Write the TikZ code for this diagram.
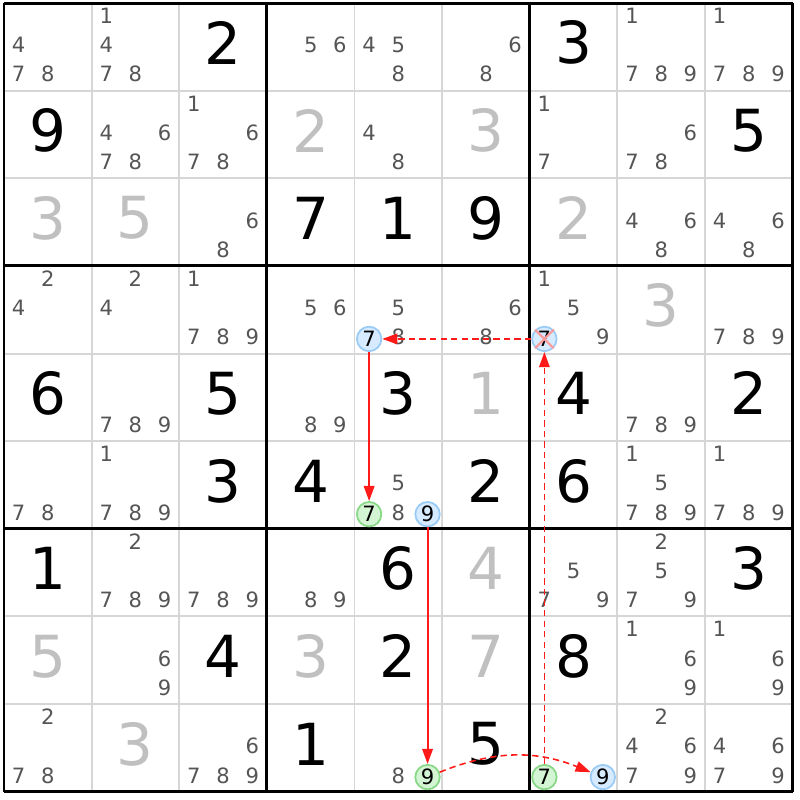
\documentclass[tikz,border=0pt]{standalone}
\usepackage{fontspec}
\setmainfont{DejaVu Sans}
\usetikzlibrary{arrows.meta}
\definecolor{candgray}{HTML}{555555}
\definecolor{solvgray}{HTML}{C0C0C0}
\definecolor{cellline}{HTML}{D6D6D6}
\definecolor{bluefill}{HTML}{D6EBFF}
\definecolor{blueline}{HTML}{9ACBF5}
\definecolor{greenfill}{HTML}{D4F5D4}
\definecolor{greenline}{HTML}{88D888}
\definecolor{crossred}{HTML}{FF9A9A}
\definecolor{linkred}{HTML}{FF1A1A}
\begin{document}
\begin{tikzpicture}[x=0.8763cm, y=0.8763cm, line join=round,
	given/.style={font=\fontsize{16.5}{16.5}\selectfont, text=black, inner sep=0pt},
	solved/.style={given, text=solvgray},
	cand/.style={font=\fontsize{6}{6}\selectfont, text=candgray, inner sep=0pt},
	bluecand/.style={cand, text=black, circle, draw=blueline, fill=bluefill, line width=0.5pt, minimum size=0.245cm},
	greencand/.style={bluecand, draw=greenline, fill=greenfill},
	link/.style={draw=linkred, line width=0.55pt, -{Triangle[length=4.3pt,width=3pt,fill=linkred]}},
	weaklink/.style={link, line width=0.45pt, dash pattern=on 1.8pt off 1.2pt}]
	\useasboundingbox (-0.04cm,-0.083cm) rectangle (7.96cm,7.917cm);
	% luoi
	\foreach \i in {1,2,4,5,7,8} {
		\draw[cellline, line width=0.55pt] (\i,0) -- (\i,9);
		\draw[cellline, line width=0.55pt] (0,\i) -- (9,\i);
	}
	\foreach \i in {0,3,6,9} {
		\draw[line width=0.85pt] (\i,0) -- (\i,9);
		\draw[line width=0.85pt] (0,\i) -- (9,\i);
	}
	% so cho truoc
	\foreach \rw/\cl/\n in {1/3/2,1/7/3,2/1/9,2/9/5,3/4/7,3/5/1,3/6/9,5/1/6,5/3/5,5/5/3,5/7/4,5/9/2,
		6/3/3,6/4/4,6/6/2,6/7/6,7/1/1,7/5/6,7/9/3,8/3/4,8/5/2,8/7/8,9/4/1,9/6/5}
		\node[given] (g\rw\cl) at (\cl-0.5,9.545-\rw) {\n};
	\foreach \rw/\cl/\n in {2/4/2,2/6/3,3/1/3,3/2/5,3/7/2,4/8/3,5/6/1,7/6/4,8/1/5,8/4/3,8/6/7,9/2/3}
		\node[solved] (g\rw\cl) at (\cl-0.5,9.545-\rw) {\n};
	% ung vien
	\foreach \rw/\cl/\ds in {1/1/{4,7,8},1/2/{1,4,7,8},1/4/{5,6},1/5/{4,5,8},1/6/{6,8},1/8/{1,7,8,9},1/9/{1,7,8,9},
		2/2/{4,6,7,8},2/3/{1,6,7,8},2/5/{4,8},2/7/{1,7},2/8/{6,7,8},
		3/3/{6,8},3/8/{4,6,8},3/9/{4,6,8},
		4/1/{2,4},4/2/{2,4},4/3/{1,7,8,9},4/4/{5,6},4/5/{5,8},4/6/{6,8},4/7/{1,5,9},4/9/{7,8,9},
		5/2/{7,8,9},5/4/{8,9},5/8/{7,8,9},
		6/1/{7,8},6/2/{1,7,8,9},6/5/{5,8},6/8/{1,5,7,8,9},6/9/{1,7,8,9},
		7/2/{2,7,8,9},7/3/{7,8,9},7/4/{8,9},7/7/{5,7,9},7/8/{2,5,7,9},
		8/2/{6,9},8/8/{1,6,9},8/9/{1,6,9},
		9/1/{2,7,8},9/3/{6,7,8,9},9/5/{8},9/8/{2,4,6,7,9},9/9/{4,6,7,9}}
		\foreach \n in \ds {
			\pgfmathsetmacro\px{\cl-1+(mod(\n-1,3)+0.5)/3}
			\pgfmathsetmacro\py{10-\rw-(floor((\n-1)/3)+0.5)/3+0.02}
			\node[cand] (k\rw\cl\n) at (\px,\py) {\n};
		}
	% ung vien danh dau
	\foreach \rw/\cl/\n in {4/5/7,4/7/7,6/5/9,9/7/9} {
		\pgfmathsetmacro\px{\cl-1+(mod(\n-1,3)+0.5)/3}
		\pgfmathsetmacro\py{10-\rw-(floor((\n-1)/3)+0.5)/3}
		\node[bluecand] (h\rw\cl\n) at (\px,\py) {\n};
	}
	\foreach \rw/\cl/\n in {6/5/7,9/5/9,9/7/7} {
		\pgfmathsetmacro\px{\cl-1+(mod(\n-1,3)+0.5)/3}
		\pgfmathsetmacro\py{10-\rw-(floor((\n-1)/3)+0.5)/3}
		\node[greencand] (h\rw\cl\n) at (\px,\py) {\n};
	}
	\draw[crossred, line width=0.6pt] (h477.north west) -- (h477.south east) (h477.north east) -- (h477.south west);
	% chuoi
	\draw[weaklink] (h477) -- (h457);
	\draw[link] (h457) -- (h657);
	\draw[link] (h659) -- (h959);
	\draw[weaklink] (h959) to[bend left=22] (h979);
	\draw[weaklink] (h977) -- (h477);
\end{tikzpicture}
\end{document}
